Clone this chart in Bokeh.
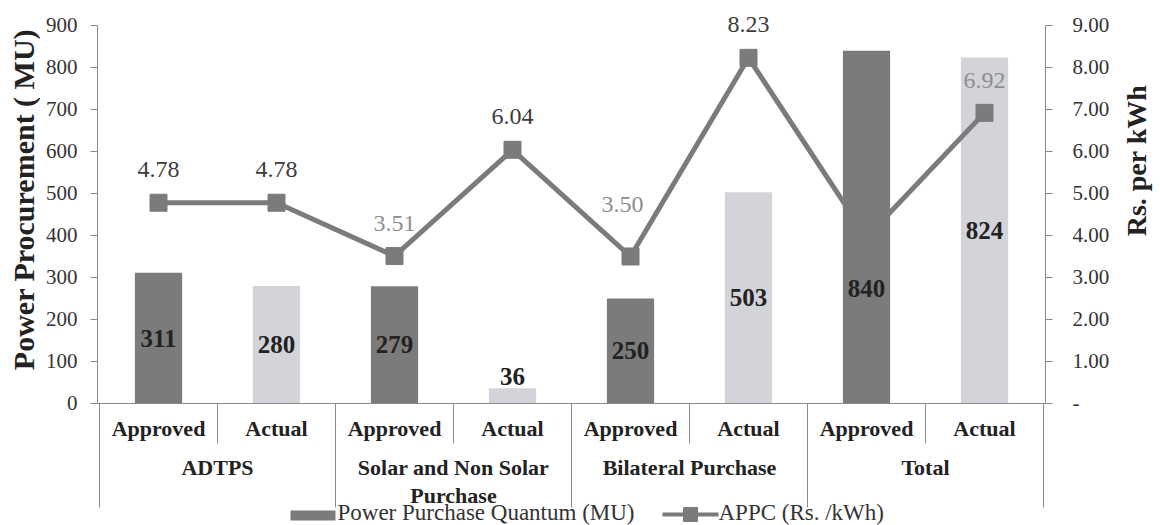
from bokeh.plotting import figure
from bokeh.layouts import row
from bokeh.models import Range1d, LinearAxis, FixedTicker, NumeralTickFormatter, ColumnDataSource
from bokeh.core.properties import value
from bokeh.embed import file_html
from bokeh.resources import INLINE
import math

# ---------------- data ----------------
groups = ["ADTPS", "Solar and Non Solar\nPurchase", "Bilateral Purchase", "Total"]
subcats = ["Approved", "Actual"]
quantum = [311, 280, 279, 36, 250, 503, 840, 824]          # Power Purchase Quantum (MU)
appc = [4.78, 4.78, 3.51, 6.04, 3.50, 8.23, 3.96, 6.92]    # APPC (Rs./kWh)
appc_labels = ["4.78", "4.78", "3.51", "6.04", "3.50", "8.23", "", "6.92"]
quantum_labels = [str(v) for v in quantum]
left_ticks = [0, 100, 200, 300, 400, 500, 600, 700, 800, 900]
right_ticks = [0, 1, 2, 3, 4, 5, 6, 7, 8, 9]
left_title = "Power Procurement ( MU)"
right_title = "Rs. per kWh"
legend_labels = ["Power Purchase Quantum (MU)", "APPC (Rs. /kWh)"]

# ---------------- styles ----------------
FONT = value("Liberation Serif")
DARK = "#7b7b7b"
LIGHT = "#d3d3da"
LINE = DARK
bar_colors = [DARK, LIGHT] * 4
appc_label_colors = ["#3c3c3c", "#3c3c3c", "#8e8e8e", "#3c3c3c", "#8e8e8e", "#3c3c3c", "#3c3c3c", "#8e8e8e"]
appc_label_dx = [0, 0, 0, 0, -8, 0, 0, 0]
appc_label_dy = [-33, -33, -33, -33, -52, -33, 0, -32]
bar_label_dy = [0, 0, 0, -19, 0, 0, 61, 0]

H = 525
LEFT_W = 40
RIGHT_W = 40
PX_X = 118.0      # px per category slot
PX_Y = 0.42       # px per MU
X0 = -0.517
Y_BOTTOM = -290.5
Y_TOP = 959.5


def dx(px):
    return X0 + (px - 97) / PX_X


def dy(py):
    return (403 - py) / PX_Y


def side_panel(width, x0, title, cx, cy, size):
    f = figure(width=width, height=H, output_backend="svg", toolbar_location=None,
               x_range=Range1d(x0, x0 + width), y_range=Range1d(0, H),
               x_axis_location=None, y_axis_location=None, min_border=0,
               outline_line_color=None, background_fill_color="white", border_fill_color="white")
    f.grid.visible = False
    f.text(x=[cx], y=[H - cy], text=[title], angle=math.pi / 2, text_font=FONT,
           text_font_size=size, text_font_style="bold", text_color="#222222",
           text_align="center", text_baseline="middle")
    return f


n = len(quantum)
xs = list(range(n))

p = figure(width=1160 - LEFT_W - RIGHT_W, height=H, output_backend="svg", toolbar_location=None,
           x_range=Range1d(X0, X0 + 948 / PX_X), y_range=Range1d(Y_BOTTOM, Y_TOP),
           x_axis_location=None, min_border_left=97 - LEFT_W, min_border_right=1160 - RIGHT_W - 1045,
           min_border_top=0, min_border_bottom=0, outline_line_color=None,
           background_fill_color="white", border_fill_color="white")
p.grid.visible = False
p.extra_y_ranges = {"appc": Range1d(Y_BOTTOM / 100.0, Y_TOP / 100.0)}

# left axis
ya = p.yaxis[0]
ya.bounds = (0, 900)
ya.ticker = FixedTicker(ticks=left_ticks)
ya.major_tick_out = 7
ya.major_tick_in = 0
ya.minor_tick_line_color = None
ya.axis_line_color = "#8a8a8a"
ya.major_tick_line_color = "#8a8a8a"
ya.major_label_text_font = "Liberation Serif"
ya.major_label_text_font_size = "21px"
ya.major_label_text_color = "#333333"
ya.major_label_standoff = 13

# right axis
ra = LinearAxis(y_range_name="appc", bounds=(0, 9), ticker=FixedTicker(ticks=right_ticks),
                formatter=NumeralTickFormatter(format="0.00"))
ra.major_label_overrides = {0: "-"}
ra.major_tick_out = 7
ra.major_tick_in = 0
ra.minor_tick_line_color = None
ra.axis_line_color = "#8a8a8a"
ra.major_tick_line_color = "#8a8a8a"
ra.major_label_text_font = "Liberation Serif"
ra.major_label_text_font_size = "21px"
ra.major_label_text_color = "#333333"
ra.major_label_standoff = 20
p.add_layout(ra, "right")

# bars
src = ColumnDataSource(dict(x=xs, q=quantum, color=bar_colors, lab=quantum_labels,
                            ly=[v / 2 for v in quantum], ldy=bar_label_dy,
                            a=appc, alab=appc_labels, acol=appc_label_colors,
                            adx=appc_label_dx, ady=appc_label_dy))
p.vbar(x="x", top="q", bottom=0, width=0.4, fill_color="color", line_color=None, source=src)

# category frame lines
p.segment(x0=[X0], y0=[0], x1=[X0 + 948 / PX_X], y1=[0], line_color="#8a8a8a", line_width=1.2)
sub_x = [i * 2 + 0.5 for i in range(len(groups))]
grp_x = [i * 2 - 0.5 for i in range(len(groups) + 1)]
p.segment(x0=sub_x, y0=[0] * len(sub_x), x1=sub_x, y1=[dy(443)] * len(sub_x),
          line_color="#8a8a8a", line_width=1)
p.segment(x0=grp_x, y0=[0] * len(grp_x), x1=grp_x, y1=[dy(507)] * len(grp_x),
          line_color="#8a8a8a", line_width=1)

# line series
p.line(x="x", y="a", y_range_name="appc", line_color=LINE, line_width=5, source=src)
p.scatter(x="x", y="a", y_range_name="appc", marker="square", size=17,
          fill_color=DARK, line_color=DARK, source=src)

# value labels
p.text(x="x", y="ly", text="lab", y_offset="ldy", text_font=FONT, text_font_size="25px",
       text_font_style="bold", text_color="#222222", text_align="center",
       text_baseline="middle", source=src)
p.text(x="x", y="a", text="alab", x_offset="adx", y_offset="ady", y_range_name="appc",
       text_font=FONT, text_font_size="24px", text_color="acol", text_align="center",
       text_baseline="middle", source=src)

# category labels
p.text(x=xs, y=[dy(428)] * n, text=subcats * len(groups), text_font=FONT,
       text_font_size="22px", text_font_style="bold", text_color="#222222",
       text_align="center", text_baseline="middle")
p.text(x=[i * 2 + 0.5 for i in range(len(groups))], y=[dy(455)] * len(groups), text=groups,
       text_font=FONT, text_font_size="22px", text_font_style="bold", text_color="#222222",
       text_align="center", text_baseline="top", text_line_height=1.1)

# legend
p.quad(left=[dx(290)], right=[dx(335)], top=[dy(510)], bottom=[dy(520)],
       fill_color=DARK, line_color=None)
p.text(x=[dx(337)], y=[dy(512)], text=[legend_labels[0]], text_font=FONT,
       text_font_size="23px", text_color="#333333", text_align="left", text_baseline="middle")
p.segment(x0=[dx(662)], y0=[dy(514)], x1=[dx(718)], y1=[dy(514)], line_color=LINE, line_width=4)
p.scatter(x=[dx(690)], y=[dy(514)], marker="square", size=14, fill_color=DARK, line_color=DARK)
p.text(x=[dx(718)], y=[dy(512)], text=[legend_labels[1]], text_font=FONT,
       text_font_size="23px", text_color="#333333", text_align="left", text_baseline="middle")

left_panel = side_panel(LEFT_W, 0, left_title, 23, 199, "30px")
right_panel = side_panel(RIGHT_W, 1160 - RIGHT_W, right_title, 1136, 160, "28px")

layout = row(left_panel, p, right_panel, spacing=0)
open("out.html", "w").write(file_html(layout, INLINE))
